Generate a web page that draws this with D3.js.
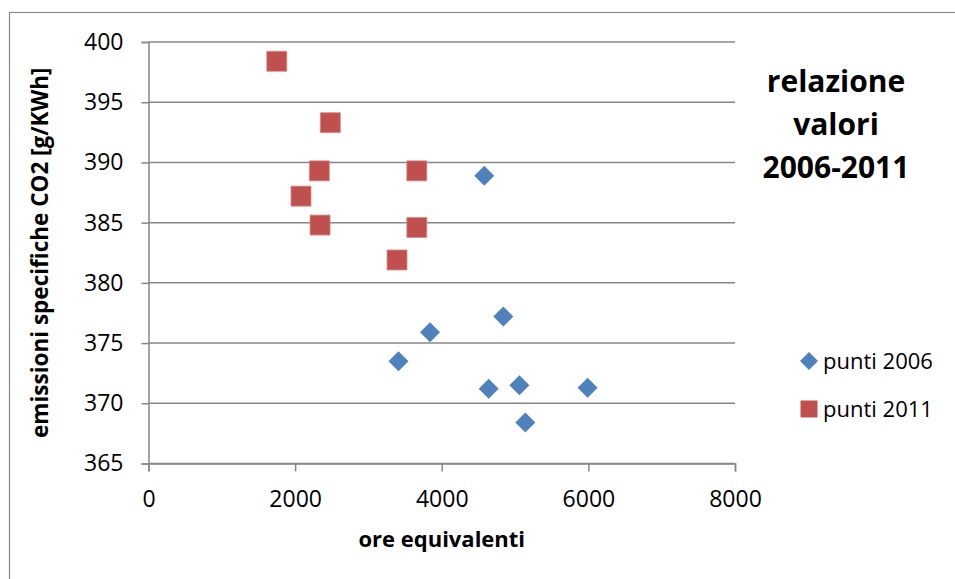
<!DOCTYPE html>
<html>
<head>
<meta charset="utf-8">
<script src="https://cdn.jsdelivr.net/npm/d3@7"></script>
<style>
  body { margin: 0; background: #fff; }
  svg { display: block; font-family: "Open Sans", sans-serif; }
</style>
</head>
<body>
<script>
// data
var ore2006 = [4580, 4840, 3840, 3410, 4640, 5060, 5990, 5140];
var emi2006 = [388.9, 377.2, 375.9, 373.5, 371.2, 371.5, 371.3, 368.4];
var ore2011 = [1750, 2480, 2330, 3660, 2080, 2340, 3660, 3390];
var emi2011 = [398.4, 393.3, 389.3, 389.3, 387.2, 384.8, 384.6, 381.9];
var xTicks = [0, 2000, 4000, 6000, 8000];
var yTicks = [365, 370, 375, 380, 385, 390, 395, 400];
var seriesNames = ["punti 2006", "punti 2011"];
var titleLines = ["relazione", "valori", "2006-2011"];

var w = 955, h = 579;
var plot = { left: 148.5, right: 735, top: 42, bottom: 463.5 };
var blue = "#4f81bd", red = "#c0504d", grid = "#878787";

var svg = d3.select("body").append("svg")
  .attr("width", w)
  .attr("height", h);

// outer chart border
svg.append("rect")
  .attr("x", 9.5).attr("y", 12.5)
  .attr("width", 980).attr("height", 600)
  .attr("fill", "#fff")
  .attr("stroke", "#8a8a8a")
  .attr("stroke-width", 1.2);

var x = d3.scaleLinear().domain([0, 8000]).range([plot.left, plot.right]);
var y = d3.scaleLinear().domain([365, 400]).range([plot.bottom, plot.top]);

// horizontal gridlines
svg.append("g")
  .selectAll("line")
  .data(yTicks)
  .enter().append("line")
  .attr("x1", plot.left).attr("x2", plot.right)
  .attr("y1", function (d) { return y(d); })
  .attr("y2", function (d) { return y(d); })
  .attr("stroke", grid)
  .attr("stroke-width", 1.5);

var yAxis = d3.axisLeft(y).tickValues(yTicks).tickSize(7).tickPadding(18);
svg.append("g")
  .attr("transform", "translate(" + plot.left + ",0)")
  .call(yAxis)
  .call(function (g) {
    g.select(".domain").attr("stroke", grid).attr("stroke-width", 1.5);
    g.selectAll(".tick line").attr("stroke", grid).attr("stroke-width", 1.5);
    g.selectAll(".tick text").attr("font-size", 23).attr("fill", "#000")
      .attr("font-family", "Open Sans");
  });

var xAxis = d3.axisBottom(x).tickValues(xTicks).tickSize(8).tickFormat(d3.format("d")).tickPadding(19);
svg.append("g")
  .attr("transform", "translate(0," + plot.bottom + ")")
  .call(xAxis)
  .call(function (g) {
    g.select(".domain").attr("stroke", grid).attr("stroke-width", 1.5);
    g.selectAll(".tick line").attr("stroke", grid).attr("stroke-width", 1.5);
    g.selectAll(".tick text").attr("font-size", 23).attr("fill", "#000")
      .attr("font-family", "Open Sans");
  });

// axis titles
svg.append("text")
  .attr("x", (plot.left + plot.right) / 2)
  .attr("y", 547)
  .attr("text-anchor", "middle")
  .attr("font-size", 22)
  .attr("font-weight", "bold")
  .text("ore equivalenti");

svg.append("text")
  .attr("transform", "translate(48," + (plot.top + plot.bottom) / 2 + ") rotate(-90)")
  .attr("text-anchor", "middle")
  .attr("font-size", 22.5)
  .attr("font-weight", "bold")
  .text("emissioni specifiche CO2 [g/KWh]");

// chart title
svg.append("g")
  .selectAll("text")
  .data(titleLines)
  .enter().append("text")
  .attr("x", 836)
  .attr("y", function (d, i) { return 92 + i * 43; })
  .attr("text-anchor", "middle")
  .attr("font-size", 30)
  .attr("font-weight", "bold")
  .text(function (d) { return d; });

// points
var diamond = d3.symbol().type(d3.symbolSquare).size(200);
var square = d3.symbol().type(d3.symbolSquare).size(400);

svg.append("g")
  .selectAll("path")
  .data(ore2011)
  .enter().append("path")
  .attr("d", square)
  .attr("transform", function (d, i) { return "translate(" + x(d) + "," + y(emi2011[i]) + ")"; })
  .attr("fill", red)
  .attr("stroke", "#d88a88")
  .attr("stroke-width", 0.8);

svg.append("g")
  .selectAll("path")
  .data(ore2006)
  .enter().append("path")
  .attr("d", diamond)
  .attr("transform", function (d, i) { return "translate(" + x(d) + "," + y(emi2006[i]) + ") rotate(45)"; })
  .attr("fill", blue);

// legend
var legend = svg.append("g");
var items = legend.selectAll("g")
  .data(seriesNames)
  .enter().append("g")
  .attr("transform", function (d, i) { return "translate(809," + (361 + i * 48) + ")"; });

items.append("path")
  .attr("d", function (d, i) {
    return i === 0 ? d3.symbol().type(d3.symbolSquare).size(162)() : d3.symbol().type(d3.symbolSquare).size(289)();
  })
  .attr("transform", function (d, i) { return i === 0 ? "rotate(45)" : null; })
  .attr("fill", function (d, i) { return i === 0 ? blue : red; });

items.append("text")
  .attr("x", 14)
  .attr("y", 7.5)
  .attr("font-size", 22)
  .text(function (d) { return d; });
</script>
</body>
</html>
